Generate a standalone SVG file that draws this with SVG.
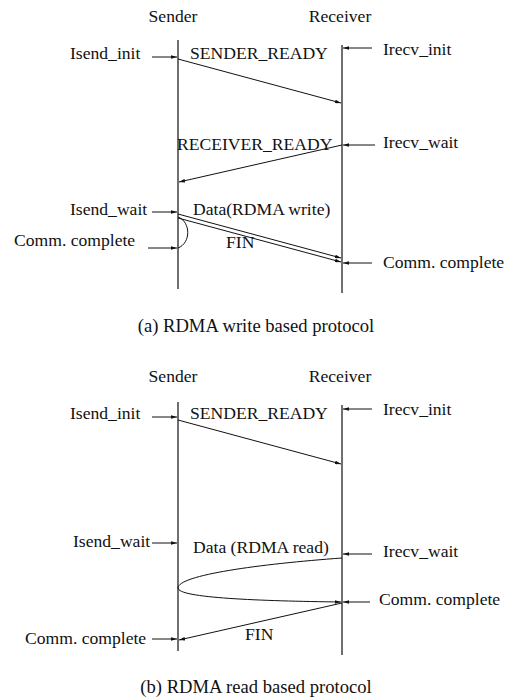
<svg xmlns="http://www.w3.org/2000/svg" width="513" height="698" viewBox="0 0 513 698">
<style>
text{font-family:"Liberation Serif","Times New Roman",serif;font-size:17.6px;fill:#111}
.cap{font-size:18.6px;text-anchor:middle}
.life{stroke:#222;stroke-width:1.3;fill:none}
.msg{stroke:#111;stroke-width:1;fill:none;marker-end:url(#ah)}
.plain{stroke:#111;stroke-width:1;fill:none}
</style>
<defs>
<marker id="ah" viewBox="0 0 10 6" refX="10" refY="3" markerWidth="6" markerHeight="3.6" markerUnits="userSpaceOnUse" orient="auto">
<path d="M0,0 L10,3 L0,6 z" fill="#111"/>
</marker>
</defs>
<rect width="513" height="698" fill="#fff"/>

<!-- (a) RDMA write -->
<g id="a-sender"><text x="173" y="22" text-anchor="middle">Sender</text><line class="life" x1="178" y1="40" x2="178" y2="289"/></g>
<g id="a-receiver"><text x="340" y="22" text-anchor="middle">Receiver</text><line class="life" x1="342" y1="45" x2="342" y2="293"/></g>
<g id="a-labels">
<text x="70" y="59">Isend_init</text>
<text x="190" y="59">SENDER_READY</text>
<text x="383" y="55">Irecv_init</text>
<text x="177" y="150">RECEIVER_READY</text>
<text x="383" y="148">Irecv_wait</text>
<text x="70" y="215">Isend_wait</text>
<text x="193" y="215">Data(RDMA write)</text>
<text x="226" y="248">FIN</text>
<text x="14" y="246">Comm. complete</text>
<text x="383" y="268">Comm. complete</text>
<text class="cap" x="256" y="332">(a) RDMA write based protocol</text>
</g>
<g id="a-connectors">
<line class="msg" x1="152" y1="57" x2="177" y2="57"/>
<line class="msg" x1="372" y1="48" x2="343" y2="48"/>
<line class="msg" x1="178" y1="59" x2="341" y2="103"/>
<line class="msg" x1="375" y1="145" x2="343" y2="145"/>
<line class="msg" x1="342" y1="145" x2="179" y2="182"/>
<line class="msg" x1="152" y1="212" x2="177" y2="212"/>
<line class="msg" x1="178" y1="214" x2="341" y2="258"/>
<line class="msg" x1="178" y1="218" x2="341" y2="262"/>
<path class="plain" d="M178,217 C191,222 191,243 178,248"/>
<line class="msg" x1="148" y1="248" x2="177" y2="248"/>
<line class="msg" x1="372" y1="263" x2="343" y2="263"/>
</g>

<!-- (b) RDMA read -->
<g id="b-sender"><text x="173" y="382" text-anchor="middle">Sender</text><line class="life" x1="178" y1="402" x2="178" y2="651"/></g>
<g id="b-receiver"><text x="340" y="382" text-anchor="middle">Receiver</text><line class="life" x1="342" y1="405" x2="342" y2="655"/></g>
<g id="b-labels">
<text x="70" y="419">Isend_init</text>
<text x="190" y="419">SENDER_READY</text>
<text x="383" y="415">Irecv_init</text>
<text x="73" y="547">Isend_wait</text>
<text x="193" y="553">Data (RDMA read)</text>
<text x="383" y="557">Irecv_wait</text>
<text x="379" y="605">Comm. complete</text>
<text x="245" y="640">FIN</text>
<text x="25" y="644">Comm. complete</text>
<text class="cap" x="256" y="693">(b) RDMA read based protocol</text>
</g>
<g id="b-connectors">
<line class="msg" x1="152" y1="417" x2="177" y2="417"/>
<line class="msg" x1="372" y1="409" x2="343" y2="409"/>
<line class="msg" x1="178" y1="420" x2="341" y2="464"/>
<line class="msg" x1="152" y1="543" x2="177" y2="543"/>
<line class="msg" x1="372" y1="554" x2="343" y2="554"/>
<path class="msg" d="M342,558 C260,564 178,575 178,588 C178,598 260,601 341,602"/>
<line class="msg" x1="370" y1="602" x2="343" y2="602"/>
<line class="msg" x1="342" y1="603" x2="179" y2="640"/>
<line class="msg" x1="152" y1="639" x2="177" y2="639"/>
</g>
</svg>
